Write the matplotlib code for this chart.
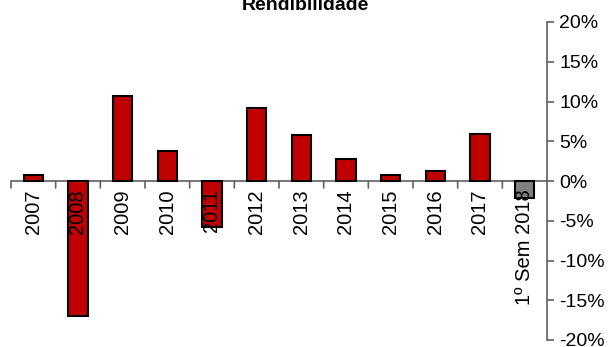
import matplotlib.pyplot as plt
import numpy as np
from matplotlib.ticker import FuncFormatter
from matplotlib.transforms import offset_copy

plt.rcParams['font.family'] = ['Liberation Sans', 'DejaVu Sans']

anos = ['2007', '2008', '2009', '2010', '2011', '2012', '2013', '2014',
        '2015', '2016', '2017', '1º Sem 2018']
rendib = [0.8, -17.0, 10.75, 3.8, -5.75, 9.15, 5.75, 2.8, 0.7, 1.3, 5.9, -2.2]
cores = ['#C00000'] * 11 + ['#808080']

fig = plt.figure(figsize=(6.11, 3.47), dpi=100)
ax = fig.add_axes([11 / 611, 7 / 347, 536 / 611, 318 / 347])

x = np.arange(len(anos))
ax.bar(x, rendib, width=0.43, color=cores, edgecolor='black', linewidth=1.5, zorder=2)

ax.set_xlim(-0.5, len(anos) - 0.5)
ax.set_ylim(-20, 20)

# eixo vertical à direita
for s in ['top', 'left', 'bottom']:
    ax.spines[s].set_visible(False)
ax.spines['right'].set_color('#606060')
ax.spines['right'].set_linewidth(1.2)
ax.yaxis.tick_right()
ax.set_yticks(np.arange(-20, 21, 5))
ax.yaxis.set_major_formatter(FuncFormatter(lambda v, p: f'{v:.0f}%'))
ax.tick_params(axis='y', direction='out', length=5, width=1.2, color='#606060',
               labelsize=14, pad=4)

# linha do zero com marcas entre categorias
ax.axhline(0, color='#606060', linewidth=1.2, zorder=1)
ax.set_xticks([])
for b in np.arange(-0.5, len(anos) - 0.5, 1.0):
    ax.annotate('', xy=(b, 0), xytext=(0, -5), textcoords='offset points',
                xycoords='data',
                arrowprops=dict(arrowstyle='-', color='#606060', lw=1.2,
                                shrinkA=0, shrinkB=0))

lab_trans = offset_copy(ax.transData, fig=fig, x=0, y=-6, units='points')
for i, a in enumerate(anos):
    ax.text(i, 0, a, rotation=90, ha='center', va='top', fontsize=14.5,
            transform=lab_trans, zorder=3)

fig.text(0.5, 1 - 10 / 347, 'Rendibilidade', ha='center', va='baseline',
         fontsize=14, fontweight='bold')

fig.savefig('out.png', dpi=100)
